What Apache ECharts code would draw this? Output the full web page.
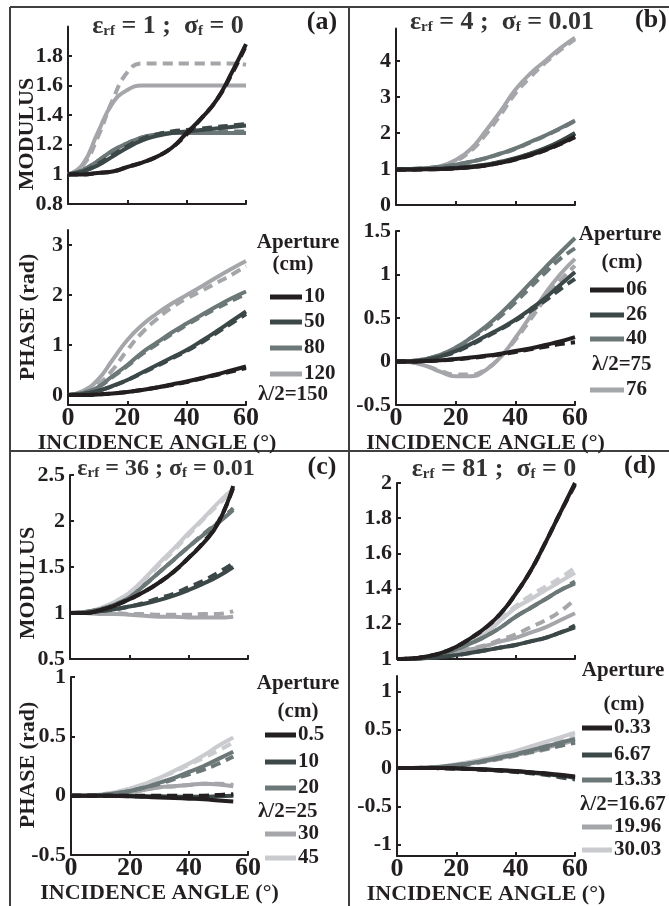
<!DOCTYPE html>
<html><head><meta charset="utf-8">
<script src="https://cdn.jsdelivr.net/npm/echarts@6/dist/echarts.min.js"></script>
<style>html,body{margin:0;padding:0;background:#fff}#c{width:669px;height:906px}</style>
</head><body><div id="c"></div>
<script>
// ---------- DATA ----------
const anglesAB = [0,5,10,15,20,25,30,35,40,45,50,55,60];
const anglesC  = [0,5,10,15,20,25,30,35,40,45,50,55];
const anglesD  = [0,5,10,15,20,25,30,35,40,45,50,55,60];
const xTicks = [0,20,40,60];

// (a) eps=1, sigma=0 ; series order: 10, 50, 80, 120 cm
const aModSolid = [
  [1.0,1.0,1.01,1.02,1.05,1.08,1.12,1.18,1.28,1.38,1.50,1.68,1.88],
  [1.0,1.02,1.06,1.12,1.18,1.23,1.26,1.28,1.29,1.30,1.31,1.32,1.33],
  [1.0,1.03,1.09,1.16,1.21,1.25,1.27,1.28,1.28,1.28,1.28,1.28,1.28],
  [1.0,1.07,1.28,1.48,1.57,1.60,1.60,1.60,1.60,1.60,1.60,1.60,1.60]
];
const aModDashed = [
  [1.0,1.0,1.01,1.02,1.05,1.08,1.12,1.18,1.27,1.38,1.50,1.67,1.87],
  [1.0,1.02,1.07,1.13,1.19,1.24,1.27,1.29,1.30,1.31,1.32,1.33,1.34],
  [1.0,1.03,1.09,1.16,1.21,1.25,1.27,1.28,1.28,1.29,1.29,1.29,1.29],
  [1.0,1.06,1.25,1.50,1.69,1.75,1.75,1.75,1.75,1.75,1.75,1.75,1.74]
];
const aPhaseSolid = [
  [0,0,0.01,0.03,0.06,0.10,0.15,0.21,0.27,0.34,0.41,0.49,0.57],
  [0,0.02,0.08,0.18,0.30,0.45,0.60,0.75,0.90,1.08,1.27,1.47,1.67],
  [0,0.04,0.15,0.38,0.60,0.85,1.05,1.25,1.43,1.60,1.77,1.93,2.07],
  [0,0.08,0.30,0.70,1.10,1.40,1.63,1.83,2.00,2.17,2.35,2.52,2.68]
];
const aPhaseDashed = [
  [0,0,0.01,0.03,0.06,0.10,0.15,0.20,0.26,0.33,0.40,0.47,0.54],
  [0,0.02,0.08,0.18,0.30,0.44,0.58,0.73,0.88,1.05,1.24,1.43,1.62],
  [0,0.04,0.15,0.36,0.58,0.82,1.02,1.22,1.40,1.57,1.73,1.88,2.02],
  [0,0.05,0.20,0.50,0.90,1.25,1.52,1.75,1.93,2.08,2.24,2.40,2.58]
];
const aLegend = ['10','50','80','120'];
const aHalfWave = 'λ/2=150';

// (b) eps=4, sigma=0.01 ; series order: 06, 26, 40, 76 cm
const bModSolid = [
  [0.98,0.98,0.99,1.0,1.02,1.05,1.10,1.17,1.27,1.39,1.53,1.70,1.90],
  [1.0,1.0,1.0,1.01,1.03,1.07,1.12,1.20,1.30,1.43,1.58,1.77,2.00],
  [1.0,1.0,1.02,1.06,1.12,1.20,1.30,1.43,1.57,1.75,1.93,2.13,2.35],
  [1.0,1.0,1.02,1.08,1.25,1.55,2.05,2.60,3.20,3.65,4.00,4.35,4.65]
];
const bModDashed = [
  [0.98,0.98,0.99,1.0,1.02,1.05,1.10,1.17,1.26,1.38,1.52,1.69,1.88],
  [1.0,1.0,1.0,1.01,1.03,1.07,1.12,1.19,1.29,1.42,1.57,1.76,1.98],
  [1.0,1.0,1.02,1.06,1.12,1.20,1.30,1.42,1.56,1.74,1.92,2.12,2.33],
  [1.0,1.0,1.02,1.07,1.22,1.50,1.95,2.50,3.10,3.55,3.95,4.30,4.60]
];
const bPhaseSolid = [
  [0,0,0.005,0.015,0.03,0.045,0.065,0.09,0.12,0.15,0.19,0.23,0.28],
  [0,0,0.02,0.06,0.12,0.20,0.29,0.38,0.48,0.60,0.73,0.88,1.03],
  [0,0.005,0.03,0.08,0.16,0.27,0.40,0.55,0.72,0.90,1.08,1.25,1.42],
  [0,-0.01,-0.05,-0.12,-0.17,-0.17,-0.10,0.05,0.27,0.52,0.78,1.00,1.18]
];
const bPhaseDashed = [
  [0,0,0.005,0.012,0.025,0.04,0.06,0.08,0.11,0.14,0.17,0.20,0.22],
  [0,0,0.02,0.06,0.11,0.19,0.28,0.37,0.47,0.58,0.70,0.83,0.95],
  [0,0.005,0.03,0.08,0.15,0.26,0.38,0.52,0.68,0.85,1.02,1.18,1.30],
  [0,-0.01,-0.05,-0.11,-0.15,-0.15,-0.09,0.05,0.25,0.48,0.72,0.93,1.10]
];
const bLegend = ['06','26','40','76'];
const bHalfWave = 'λ/2=75';

// (c) eps=36, sigma=0.01 ; series order: 0.5, 10, 20, 30, 45 cm
const cModSolid = [
  [1.0,1.0,1.03,1.08,1.15,1.23,1.33,1.45,1.60,1.76,1.98,2.38],
  [1.0,1.0,1.02,1.04,1.07,1.10,1.14,1.19,1.25,1.32,1.40,1.50],
  [1.0,1.01,1.04,1.09,1.17,1.30,1.44,1.58,1.72,1.85,1.98,2.12],
  [1.0,1.0,0.99,0.99,0.98,0.97,0.96,0.96,0.95,0.95,0.95,0.96],
  [1.0,1.01,1.05,1.12,1.22,1.37,1.54,1.70,1.87,2.03,2.20,2.35]
];
const cModDashed = [
  [1.0,1.0,1.03,1.08,1.15,1.23,1.33,1.45,1.60,1.77,1.99,2.36],
  [1.0,1.0,1.02,1.04,1.07,1.11,1.16,1.21,1.28,1.35,1.44,1.54],
  [1.0,1.01,1.04,1.09,1.17,1.30,1.44,1.58,1.72,1.86,1.99,2.14],
  [1.0,1.0,1.0,1.0,0.99,0.99,0.98,0.98,0.98,0.99,0.99,1.02],
  [1.0,1.01,1.05,1.12,1.22,1.36,1.52,1.68,1.85,2.02,2.18,2.33]
];
const cPhaseSolid = [
  [0,0,0,-0.002,-0.005,-0.01,-0.015,-0.02,-0.025,-0.03,-0.04,-0.05],
  [0,0,0,0,0,-0.005,-0.005,-0.01,-0.01,-0.01,-0.005,0],
  [0,0,0.005,0.02,0.04,0.07,0.11,0.15,0.20,0.25,0.31,0.37],
  [0,0,0.005,0.015,0.03,0.05,0.07,0.08,0.09,0.10,0.095,0.08],
  [0,0,0.01,0.03,0.06,0.10,0.15,0.21,0.27,0.34,0.42,0.49]
];
const cPhaseDashed = [
  [0,0,0,0,0,0,0,0,0,0,0.005,0.01],
  [0,0,0,-0.002,-0.005,-0.008,-0.01,-0.01,-0.01,-0.005,0.005,0.01],
  [0,0,0.005,0.02,0.04,0.07,0.10,0.14,0.18,0.22,0.27,0.33],
  [0,0,0.005,0.015,0.03,0.05,0.07,0.08,0.09,0.10,0.10,0.09],
  [0,0,0.01,0.03,0.06,0.10,0.15,0.20,0.26,0.32,0.38,0.45]
];
const cLegend = ['0.5','10','20','30','45'];
const cHalfWave = 'λ/2=25';

// (d) eps=81, sigma=0 ; series order: 0.33, 6.67, 13.33, 19.96, 30.03 cm
const dModSolid = [
  [1.0,1.003,1.015,1.035,1.07,1.12,1.18,1.26,1.37,1.50,1.66,1.83,2.00],
  [1.0,1.001,1.005,1.012,1.022,1.035,1.05,1.065,1.08,1.10,1.12,1.15,1.18],
  [1.0,1.003,1.012,1.03,1.055,1.09,1.13,1.18,1.24,1.29,1.34,1.39,1.43],
  [1.0,1.002,1.008,1.02,1.035,1.055,1.075,1.10,1.12,1.15,1.18,1.22,1.26],
  [1.0,1.003,1.013,1.03,1.06,1.10,1.15,1.22,1.29,1.34,1.39,1.44,1.49]
];
const dModDashed = [
  [1.0,1.003,1.015,1.035,1.07,1.12,1.18,1.26,1.37,1.50,1.66,1.83,1.99],
  [1.0,1.001,1.005,1.012,1.022,1.035,1.05,1.065,1.08,1.10,1.12,1.15,1.19],
  [1.0,1.003,1.012,1.03,1.055,1.09,1.13,1.18,1.24,1.29,1.34,1.39,1.44],
  [1.0,1.002,1.008,1.02,1.04,1.06,1.08,1.11,1.14,1.18,1.22,1.27,1.34],
  [1.0,1.003,1.013,1.03,1.06,1.10,1.16,1.23,1.30,1.36,1.41,1.46,1.52]
];
const dPhaseSolid = [
  [0,0,0,-0.002,-0.005,-0.01,-0.02,-0.03,-0.04,-0.055,-0.07,-0.09,-0.11],
  [0,0,0,-0.002,-0.006,-0.012,-0.02,-0.03,-0.045,-0.06,-0.08,-0.10,-0.13],
  [0,0,0.004,0.015,0.04,0.065,0.10,0.14,0.18,0.23,0.28,0.33,0.38],
  [0,0,0.004,0.015,0.035,0.06,0.09,0.13,0.17,0.21,0.26,0.31,0.36],
  [0,0,0.005,0.02,0.05,0.08,0.12,0.17,0.22,0.28,0.34,0.40,0.46]
];
const dPhaseDashed = [
  [0,0,0,-0.003,-0.007,-0.013,-0.022,-0.033,-0.045,-0.06,-0.075,-0.095,-0.12],
  [0,0,0,-0.003,-0.008,-0.015,-0.025,-0.037,-0.052,-0.07,-0.09,-0.12,-0.15],
  [0,0,0.004,0.014,0.035,0.06,0.09,0.13,0.17,0.21,0.25,0.29,0.33],
  [0,0,0.004,0.014,0.033,0.057,0.085,0.12,0.16,0.20,0.24,0.29,0.34],
  [0,0,0.005,0.02,0.045,0.075,0.11,0.16,0.21,0.26,0.31,0.36,0.41]
];
const dLegend = ['0.33','6.67','13.33','19.96','30.03'];
const dHalfWave = 'λ/2=16.67';

// y tick labels
const aModTicks = [0.8,1,1.2,1.4,1.6,1.8];
const aPhaseTicks = [0,1,2,3];
const bModTicks = [0,1,2,3,4];
const bPhaseTicks = [-0.5,0,0.5,1,1.5];
const cModTicks = [0.5,1,1.5,2,2.5];
const cPhaseTicks = [-0.5,0,0.5,1];
const dModTicks = [1,1.2,1.4,1.6,1.8,2];
const dPhaseTicks = [-1,-0.5,0,0.5,1];

// ---------- STYLE / LAYOUT ----------
const FONT = '"Liberation Serif","Times New Roman",serif';
const INK = '#231f20';
const C_BLACK = '#231f20', C_DARK = '#3c4848', C_MID = '#6c7777', C_LIGHT = '#a5a6a9', C_VLIGHT = '#c9cbcf';
const colors4 = [C_BLACK, C_DARK, C_MID, C_LIGHT];
const colors5 = [C_BLACK, C_DARK, C_MID, C_LIGHT, C_VLIGHT];

const panels = [
  {g:{left:68,top:26.4,width:178,height:177.6}, min:0.8, max:2.0, ticks:aModTicks, xl:false, ang:anglesAB, s:aModSolid, d:aModDashed, col:colors4},
  {g:{left:68,top:230,width:178,height:175}, min:-0.2, max:3.3, ticks:aPhaseTicks, xl:true, ang:anglesAB, s:aPhaseSolid, d:aPhaseDashed, col:colors4},
  {g:{left:396,top:28.6,width:179,height:176.4}, min:0, max:4.9, ticks:bModTicks, xl:false, ang:anglesAB, s:bModSolid, d:bModDashed, col:colors4},
  {g:{left:396,top:231,width:179,height:174}, min:-0.5, max:1.5, ticks:bPhaseTicks, xl:true, ang:anglesAB, s:bPhaseSolid, d:bPhaseDashed, col:colors4},
  {g:{left:70,top:475,width:178,height:184}, min:0.5, max:2.5, ticks:cModTicks, xl:false, ang:anglesC, s:cModSolid, d:cModDashed, col:colors5},
  {g:{left:71,top:677,width:177,height:178}, min:-0.5, max:1, ticks:cPhaseTicks, xl:true, ang:anglesC, s:cPhaseSolid, d:cPhaseDashed, col:colors5},
  {g:{left:397,top:483,width:178,height:176}, min:1, max:2, ticks:dModTicks, xl:false, ang:anglesD, s:dModSolid, d:dModDashed, col:colors5},
  {g:{left:397,top:676,width:178,height:181}, min:-1.15, max:1.2, ticks:dPhaseTicks, xl:true, ang:anglesD, s:dPhaseSolid, d:dPhaseDashed, col:colors5}
];

const grids = [], xAxes = [], yAxes = [], series = [];
panels.forEach((p, i) => {
  grids.push(Object.assign({containLabel:false}, p.g));
  xAxes.push({
    type:'value', gridIndex:i, min:0, max:60,
    axisLine:{show:true, onZero:false, lineStyle:{color:INK, width:2}},
    axisTick:{show:true, inside:true, length:4, customValues:xTicks, lineStyle:{color:INK, width:2}},
    axisLabel:{show:p.xl, customValues:xTicks, margin:0, fontSize:26, fontWeight:'bold', fontFamily:FONT, color:INK},
    splitLine:{show:false},
    name: p.xl ? 'INCIDENCE ANGLE (°)' : '', nameLocation:'middle', nameGap:19,
    nameTextStyle:{fontSize:22, fontWeight:'bold', fontFamily:FONT, color:INK}
  });
  yAxes.push({
    type:'value', gridIndex:i, min:p.min, max:p.max,
    axisLine:{show:true, onZero:false, lineStyle:{color:INK, width:2}},
    axisTick:{show:true, inside:true, length:4, customValues:p.ticks, lineStyle:{color:INK, width:2}},
    axisLabel:{customValues:p.ticks, margin:5, fontSize:22, fontWeight:'bold', fontFamily:FONT, color:INK},
    splitLine:{show:false}
  });
  for (let k = p.s.length - 1; k >= 0; k--) {
    const c = p.col[k];
    series.push({type:'line', xAxisIndex:i, yAxisIndex:i, symbol:'none', smooth:0.5, silent:true,
      data:p.ang.map((a,j)=>[a, p.s[k][j]]), lineStyle:{color:c, width:4}});
    series.push({type:'line', xAxisIndex:i, yAxisIndex:i, symbol:'none', smooth:0.5, silent:true,
      data:p.ang.map((a,j)=>[a, p.d[k][j]]), lineStyle:{color:c, width:4, type:[10,6]}});
  }
});

// ---------- GRAPHIC: borders, titles, y names, legends ----------
const graphic = [];
const BORDER = '#3f3f3f';
[[10,7,669,7],[10,7,10,906],[349,7,349,906],[10,451,669,451]].forEach(s => {
  graphic.push({type:'line', shape:{x1:s[0],y1:s[1],x2:s[2],y2:s[3]}, style:{stroke:BORDER, lineWidth:2}, silent:true});
});
function titleRich(sz) {
  return {
    m:{fontSize:sz, fontWeight:'bold', fontFamily:FONT, fill:'#333', lineHeight:sz, verticalAlign:'top'},
    s:{fontSize:15, fontWeight:'bold', fontFamily:FONT, fill:'#333', lineHeight:15, verticalAlign:'bottom', padding:[sz-11,0,0,0]}
  };
}
const titles = [
  ['{m|ε}{s|rf}{m| = 1 ;  σ}{s|f}{m| = 0}', 168, 26, 26, '(a)', 322, 22],
  ['{m|ε}{s|rf}{m| = 4 ;  σ}{s|f}{m| = 0.01}', 502, 22, 26, '(b)', 651, 20],
  ['{m|ε}{s|rf}{m| = 36 ; σ}{s|f}{m| = 0.01}', 166, 469, 24, '(c)', 322, 467],
  ['{m|ε}{s|rf}{m| = 81 ;  σ}{s|f}{m| = 0}', 494, 469, 26, '(d)', 640, 466]
];
titles.forEach(t => {
  graphic.push({type:'text', x:t[1], y:t[2], silent:true,
    style:{text:t[0], rich:titleRich(t[3]), align:'center', verticalAlign:'middle'}});
  graphic.push({type:'text', x:t[5], y:t[6], silent:true,
    style:{text:t[4], fontSize:26, fontWeight:'bold', fontFamily:FONT, fill:INK, align:'center', verticalAlign:'middle'}});
});
[['MODULUS',27,134],['PHASE (rad)',28,317],['MODULUS',28,583],['PHASE (rad)',28,765]].forEach(n => {
  graphic.push({type:'text', x:n[1], y:n[2], rotation:Math.PI/2, silent:true,
    style:{text:n[0], fontSize:22, fontWeight:'bold', fontFamily:FONT, fill:INK, align:'center', verticalAlign:'middle'}});
});
const legends = [
  {labels:aLegend, half:aHalfWave, col:colors4, ap:[298,243], cm:[293,265], lx:270, tx:304, rows:[297,322,348,374], hx:258, hy:395},
  {labels:bLegend, half:bHalfWave, col:colors4, ap:[620,235], cm:[622,263], lx:590, tx:626, rows:[290,315,339,390], hx:592, hy:365},
  {labels:cLegend, half:cHalfWave, col:colors5, ap:[298,684], cm:[298,712], lx:265, tx:298, rows:[735,762,788,834,858], hx:258, hy:812},
  {labels:dLegend, half:dHalfWave, col:colors5, ap:[623,671], cm:[624,705], lx:582, tx:614, rows:[728,755,780,827,850], hx:580, hy:805}
];
const legFont = {fontSize:21, fontWeight:'bold', fontFamily:FONT, fill:INK};
legends.forEach(L => {
  graphic.push({type:'text', x:L.ap[0], y:L.ap[1], silent:true, style:Object.assign({text:'Aperture', align:'center', verticalAlign:'middle'}, legFont)});
  graphic.push({type:'text', x:L.cm[0], y:L.cm[1], silent:true, style:Object.assign({text:'(cm)', align:'center', verticalAlign:'middle'}, legFont)});
  L.labels.forEach((lab, k) => {
    const y = L.rows[k];
    graphic.push({type:'rect', shape:{x:L.lx, y:y-2.5, width:L.tx-L.lx-2, height:5}, style:{fill:L.col[k]}, silent:true});
    graphic.push({type:'text', x:L.tx, y:y, silent:true, style:Object.assign({text:lab, align:'left', verticalAlign:'middle'}, legFont)});
  });
  graphic.push({type:'text', x:L.hx, y:L.hy, silent:true, style:Object.assign({text:L.half, align:'left', verticalAlign:'middle'}, legFont)});
});

const chart = echarts.init(document.getElementById('c'), null, {renderer:'canvas'});
chart.setOption({animation:false, backgroundColor:'#fff', grid:grids, xAxis:xAxes, yAxis:yAxes, series:series, graphic:graphic});
</script></body></html>
